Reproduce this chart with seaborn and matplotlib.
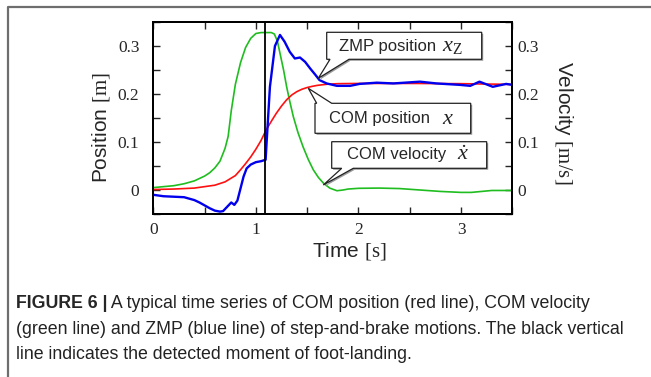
import numpy as np
import pandas as pd
import matplotlib
matplotlib.use('Agg')
import matplotlib.pyplot as plt
import seaborn as sns
from matplotlib.patches import Polygon
from matplotlib.lines import Line2D
from matplotlib.ticker import MultipleLocator

# ---------------- data ----------------
com_pos_t = [0.0, 0.2, 0.4, 0.6, 0.7, 0.8, 0.85, 0.9, 0.95, 1.0, 1.05, 1.1, 1.15, 1.2,
             1.25, 1.3, 1.35, 1.4, 1.45, 1.5, 1.55, 1.6, 1.7, 1.8, 2.0, 2.5, 3.0, 3.5]
com_pos = [0.001, 0.002, 0.004, 0.010, 0.017, 0.030, 0.042, 0.055, 0.069, 0.085, 0.103,
           0.125, 0.143, 0.160, 0.175, 0.188, 0.198, 0.205, 0.210, 0.2135, 0.216, 0.218,
           0.2205, 0.2215, 0.222, 0.222, 0.2215, 0.220]

com_vel_t = [0.0, 0.1, 0.2, 0.3, 0.4, 0.5, 0.55, 0.6, 0.65, 0.7, 0.73, 0.76, 0.8, 0.85,
             0.9, 0.95, 1.0, 1.05, 1.1, 1.15, 1.18, 1.21, 1.235, 1.27, 1.3, 1.33, 1.365,
             1.41, 1.46, 1.51, 1.56, 1.61, 1.66, 1.72, 1.79, 1.85, 1.9, 2.0, 2.2, 2.4,
             2.6, 2.8, 3.0, 3.1, 3.3, 3.5]
com_vel = [0.005, 0.007, 0.009, 0.013, 0.019, 0.029, 0.036, 0.046, 0.060, 0.087, 0.112,
           0.165, 0.220, 0.265, 0.297, 0.316, 0.326, 0.328, 0.328, 0.328, 0.325, 0.310,
           0.285, 0.250, 0.215, 0.185, 0.153, 0.120, 0.090, 0.064, 0.042, 0.026, 0.014,
           0.004, -0.0015, 0.0, 0.002, 0.0035, 0.004, 0.003, 0.0, -0.003, -0.005, -0.005,
           -0.001, -0.001]

zmp_t = [0.0, 0.1, 0.2, 0.3, 0.4, 0.45, 0.5, 0.55, 0.6, 0.65, 0.68, 0.72, 0.76, 0.79,
         0.82, 0.85, 0.88, 0.91, 0.95, 1.0, 1.05, 1.08, 1.095, 1.105, 1.137, 1.186, 1.235,
         1.28, 1.33, 1.38, 1.43, 1.48, 1.53, 1.58, 1.62, 1.69, 1.79, 1.92, 2.01, 2.18,
         2.34, 2.6, 2.76, 2.99, 3.09, 3.18, 3.31, 3.44, 3.5]
zmp = [-0.010, -0.013, -0.014, -0.015, -0.021, -0.026, -0.032, -0.038, -0.043, -0.045,
       -0.044, -0.035, -0.026, -0.031, -0.022, 0.003, 0.028, 0.045, 0.053, 0.058, 0.060,
       0.062, 0.063, 0.100, 0.215, 0.300, 0.323, 0.309, 0.288, 0.274, 0.276, 0.267, 0.253,
       0.240, 0.229, 0.222, 0.217, 0.217, 0.221, 0.2236, 0.222, 0.2257, 0.222, 0.219,
       0.217, 0.2257, 0.215, 0.221, 0.219]

landing_time = 1.09

x_ticks = [0, 1, 2, 3]
x_tick_labels = ['0', '1', '2', '3']
y_ticks = [0.0, 0.1, 0.2, 0.3]
y_tick_labels = ['0', '0.1', '0.2', '0.3']

x_label_word, x_label_unit = 'Time', '[s]'
y_label_word, y_label_unit = 'Position', '[m]'
y2_label_word, y2_label_unit = 'Velocity', '[m/s]'

callouts = ['ZMP position', 'COM position', 'COM velocity']
callout_math = [r'$x_{\mathrm{Z}}$', r'$x$', r'$\dot{x}$']

caption_bold = 'FIGURE 6 |'
caption_lines = [' A typical time series of COM position (red line), COM velocity',
                 '(green line) and ZMP (blue line) of step-and-brake motions. The black vertical',
                 'line indicates the detected moment of foot-landing.']

# ---------------- style ----------------
sns.set_style('ticks')
plt.rcParams['font.family'] = ['Liberation Sans', 'DejaVu Sans']
plt.rcParams['mathtext.fontset'] = 'custom'
plt.rcParams['mathtext.rm'] = 'Liberation Serif'
plt.rcParams['mathtext.it'] = 'Liberation Serif:italic'

W, H = 651, 377
fig = plt.figure(figsize=(W / 100, H / 100), dpi=100)
fig.patch.set_facecolor('white')


def fx(x):
    return x / W


def fy(y):
    return 1 - y / H


L, R, T, B = 153.3, 512.3, 22.0, 214.0
ax = fig.add_axes([fx(L), fy(B), fx(R - L), (B - T) / H])
ax2 = ax.twinx()

df_pos = pd.DataFrame({'t': com_pos_t, 'v': com_pos})
df_vel = pd.DataFrame({'t': com_vel_t, 'v': com_vel})
df_zmp = pd.DataFrame({'t': zmp_t, 'v': zmp})

sns.lineplot(data=df_vel, x='t', y='v', ax=ax2, color='#1fbd1f', lw=1.2, estimator=None)
sns.lineplot(data=df_pos, x='t', y='v', ax=ax, color='#ff1010', lw=1.2, estimator=None)
sns.lineplot(data=df_zmp, x='t', y='v', ax=ax, color='#0000ee', lw=1.7, estimator=None)
ax.axvline(landing_time, color='black', lw=1.3)
ax.set_zorder(2)
ax.patch.set_visible(False)

for a in (ax, ax2):
    a.set_xlim(0, 3.5)
    a.set_ylim(-0.05, 0.35)
    a.set_xlabel('')
    a.set_ylabel('')
    for s in a.spines.values():
        s.set_linewidth(1.4)
        s.set_color('black')

serif = {'family': 'Liberation Serif', 'size': 12.5}
ax.set_xticks(x_ticks)
ax.set_xticklabels(x_tick_labels, fontdict=serif)
ax.set_yticks(y_ticks)
ax.set_yticklabels(y_tick_labels, fontdict=serif)
ax.xaxis.set_minor_locator(MultipleLocator(0.5))
ax.yaxis.set_minor_locator(MultipleLocator(0.05))
ax.tick_params(which='both', direction='in', length=5, width=1, top=True, right=False,
               bottom=True, left=True)
ax.tick_params(axis='y', which='major', pad=10)
ax.tick_params(axis='x', which='major', pad=6)

ax2.set_yticks(y_ticks)
ax2.set_yticklabels(y_tick_labels, fontdict=serif)
ax2.yaxis.set_minor_locator(MultipleLocator(0.05))
ax2.tick_params(which='both', direction='in', length=5, width=1, pad=4)
ax2.tick_params(axis='x', which='both', bottom=False, top=False)

lab = 15
fig.text(fx(349), fy(251), f'{x_label_word} $\\mathrm{{{x_label_unit}}}$', fontsize=lab,
         ha='center', va='center')
fig.text(fx(101), fy(128), f'{y_label_word} $\\mathrm{{{y_label_unit}}}$', fontsize=lab,
         ha='center', va='center', rotation=90)
fig.text(fx(563), fy(123), f'{y2_label_word} $\\mathrm{{{y2_label_unit}}}$', fontsize=lab,
         ha='center', va='center', rotation=-90)


# ---------------- callouts ----------------
def callout(box, tail, tip, side, text, math, tx, mx, ty):
    x0, y0, x1, y1 = box
    a, b = tail
    if side == 'bottom':
        pts = [(x0, y0), (x1, y0), (x1, y1), (b, y1), tip, (a, y1), (x0, y1)]
    else:
        pts = [(x0, y0), (a, y0), tip, (b, y0), (x1, y0), (x1, y1), (x0, y1)]
    shadow = [(px + 1.5, py + 1.5) for px, py in pts]
    fig.patches.append(Polygon([(fx(px), fy(py)) for px, py in shadow], closed=True,
                               transform=fig.transFigure, fc='#9a9a9a', ec='none', zorder=5))
    fig.patches.append(Polygon([(fx(px), fy(py)) for px, py in pts], closed=True,
                               transform=fig.transFigure, fc='white', ec='#222222',
                               lw=0.9, zorder=6))
    fig.text(fx(tx), fy(ty), text, fontsize=12, ha='left', va='center', zorder=7)
    fig.text(fx(mx), fy(ty), math, fontsize=16, ha='left', va='center', zorder=7)


callout((326.7, 32.3, 481.7, 59.3), (330, 349), (318.3, 78.3), 'bottom',
        callouts[0], callout_math[0], 339, 442, 46)
callout((315, 103.3, 470.7, 133.3), (316.7, 331.7), (308.3, 88.3), 'top',
        callouts[1], callout_math[1], 329, 442, 118.5)
callout((331.7, 141.7, 486.7, 168.3), (341.7, 353.3), (323.3, 185), 'bottom',
        callouts[2], callout_math[2], 347, 457, 155)

# ---------------- frame and caption ----------------
fig.add_artist(Line2D([fx(8), fx(8), fx(651)], [fy(377), fy(6.5), fy(6.5)],
                      transform=fig.transFigure, color='#6e6e6e', lw=1.6))

cap_size = 12.8
renderer = fig.canvas.get_renderer()
tb = fig.text(fx(16), fy(304), caption_bold, fontsize=cap_size, fontweight='bold',
              ha='left', va='center')
bb = tb.get_window_extent(renderer)
fig.text(bb.x1 / W, fy(304), caption_lines[0], fontsize=cap_size, ha='left', va='center',
         color='#222222')
fig.text(fx(16), fy(329.5), caption_lines[1], fontsize=cap_size, ha='left', va='center',
         color='#222222')
fig.text(fx(16), fy(354.5), caption_lines[2], fontsize=cap_size, ha='left', va='center',
         color='#222222')

fig.savefig('out.png', dpi=100)
